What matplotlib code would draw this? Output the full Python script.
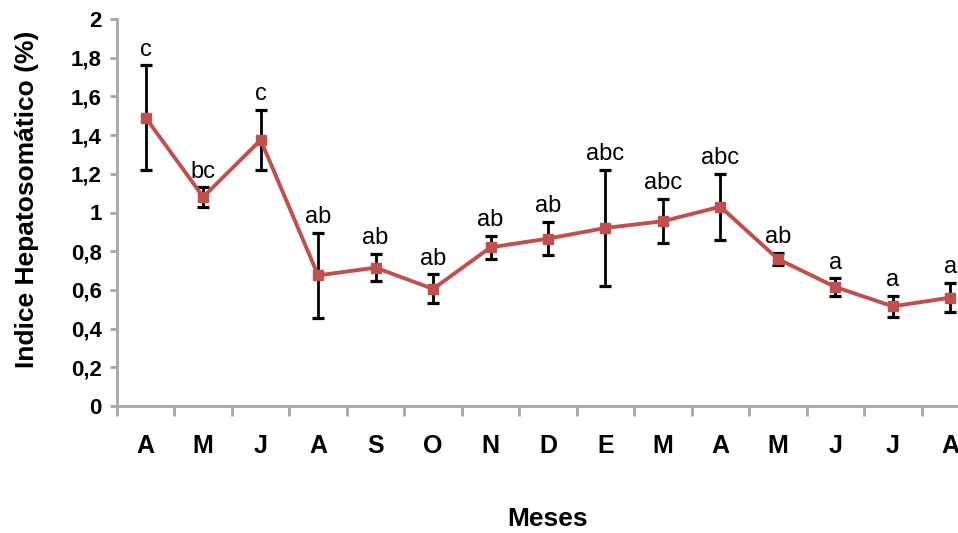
import numpy as np
import matplotlib
matplotlib.use("Agg")
import matplotlib.pyplot as plt

plt.rcParams['font.family'] = ['Liberation Sans', 'DejaVu Sans']

# data
meses = ["A", "M", "J", "A", "S", "O", "N", "D", "E", "M", "A", "M", "J", "J", "A"]
ihs = [1.49, 1.08, 1.375, 0.675, 0.715, 0.605, 0.82, 0.865, 0.92, 0.955, 1.03, 0.76, 0.615, 0.515, 0.56]
err = [0.27, 0.05, 0.155, 0.22, 0.07, 0.075, 0.06, 0.085, 0.30, 0.115, 0.17, 0.03, 0.045, 0.055, 0.075]
letras = ["c", "bc", "c", "ab", "ab", "ab", "ab", "ab", "abc", "abc", "abc", "ab", "a", "a", "a"]
yticks = [0, 0.2, 0.4, 0.6, 0.8, 1, 1.2, 1.4, 1.6, 1.8, 2]
ytick_labels = ["0", "0,2", "0,4", "0,6", "0,8", "1", "1,2", "1,4", "1,6", "1,8", "2"]

fig = plt.figure(figsize=(9.58, 5.33), dpi=100)
ax = fig.add_axes([117 / 958, 127 / 533, 862 / 958, 387 / 533])

x = np.arange(len(meses))
red = '#c0504d'
grey = '#a6a6a6'

ax.errorbar(x, ihs, yerr=err, fmt='none', ecolor='black', elinewidth=2,
            capsize=4.5, capthick=2.3, zorder=2)
ax.plot(x, ihs, color=red, lw=2.8, marker='s', markersize=6.5,
        markerfacecolor=red, markeredgecolor=red, zorder=3)

for xi, yi, e, lab in zip(x, ihs, err, letras):
    ax.annotate(lab, (xi, yi + e), xytext=(0, 7), textcoords='offset points',
                ha='center', va='baseline', fontsize=17, color='black')

ax.set_xlim(-0.5, len(meses) - 0.5)
ax.set_ylim(0, 2)
ax.set_yticks(yticks)
ax.set_yticklabels(ytick_labels, fontsize=16, fontweight='bold')
ax.set_xticks(np.arange(len(meses) + 1) - 0.5)
ax.set_xticklabels([])
ax.set_xticks(x, minor=True)
ax.set_xticklabels(meses, minor=True, fontsize=18, fontweight='bold')
ax.tick_params(axis='x', which='minor', length=0, pad=20)
ax.tick_params(axis='x', which='major', length=7, width=2, color=grey, direction='out')
ax.tick_params(axis='y', length=5, width=2, color=grey, direction='out', pad=6)

for s in ['top', 'right']:
    ax.spines[s].set_visible(False)
for s in ['left', 'bottom']:
    ax.spines[s].set_color(grey)
    ax.spines[s].set_linewidth(2)

ax.set_xlabel("Meses", fontsize=19, fontweight='bold')
ax.set_ylabel("Indice Hepatosomático (%)", fontsize=19, fontweight='bold')
ax.xaxis.set_label_coords(0.5, -0.26)
ax.yaxis.set_label_coords(-0.09, 0.535)

fig.savefig("out.png", dpi=100)
